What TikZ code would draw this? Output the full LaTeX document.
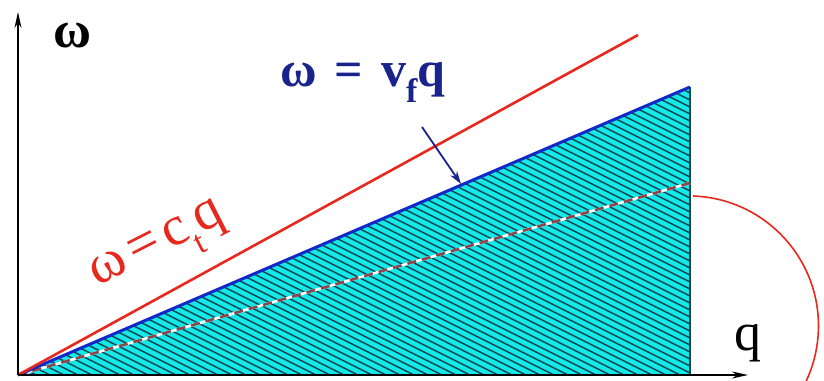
\documentclass[tikz,border=0pt]{standalone}
\usepackage{fontspec}
\setmainfont{Liberation Serif}
\usetikzlibrary{arrows.meta}
\definecolor{myred}{RGB}{232,40,28}
\definecolor{myblue}{RGB}{20,40,200}
\definecolor{navy}{RGB}{25,35,140}
\definecolor{mycyan}{RGB}{20,232,232}
\definecolor{hatch}{RGB}{10,70,80}
\definecolor{dashc}{RGB}{140,70,75}
\tikzset{
  axis/.style={line width=1.8pt, -{Stealth[length=16pt,width=7pt]}},
  lbl/.style={font=\fontsize{50}{52}\selectfont, inner sep=0pt},
}
\newcommand{\sbs}[1]{\raisebox{-0.32em}{\fontsize{34}{36}\selectfont #1}}
\begin{document}
\begin{tikzpicture}[x=1pt,y=1pt]
\useasboundingbox (0,0) rectangle (824,380);
% shaded region
\coordinate (O) at (18,5);
\coordinate (B) at (690,293);
\coordinate (C) at (690,5);
\fill[mycyan] (O) -- (B) -- (C) -- cycle;
\begin{scope}
\clip (O) -- (B) -- (C) -- cycle;
\foreach \c in {0,7,...,644} \draw[hatch, line width=1.5pt] (18,\c) -- (690,\c-336);
\end{scope}
\draw[hatch, line width=1.8pt] (B) -- (C);
% dashed line
\coordinate (D) at (690,197);
\draw[white, line width=2.6pt] (O) -- (D);
\draw[dashc, line width=2.6pt, dash pattern=on 9pt off 6pt] (O) -- (D);
% blue line
\draw[myblue, line width=3pt] (O) -- (B);
% red line
\coordinate (R) at (638,345);
\draw[myred, line width=2.6pt] (O) -- (R);
% axes
\coordinate (Y) at (18,368);
\coordinate (X) at (748,5);
\draw[axis] (O) -- (Y);
\draw[axis] (O) -- (X);
% arc
\begin{scope}
\clip (0,0) rectangle (824,380);
\draw[myred, line width=1.6pt] (693,184) arc[start angle=88, end angle=-40, radius=130];
\end{scope}
% labels
\node[lbl, font=\fontsize{52}{54}\selectfont\bfseries, anchor=base] (w) at (73,332) {ω};
\node[lbl, anchor=base west, font=\fontsize{54}{56}\selectfont] (q) at (734,30) {q};
\node[lbl, font=\fontsize{50}{52}\selectfont\bfseries, anchor=base west, text=navy] (vf) at (280,293) {ω\hspace{0.36em}=\hspace{0.36em}v\sbs{f}q};
\node[lbl, font=\fontsize{56}{58}\selectfont, anchor=center, text=myred, rotate=27] (ct) at (160,130) {ω\hspace{0.12em}=\hspace{0.12em}c\sbs{t}q};
% arrow
\coordinate (A1) at (422,253);
\coordinate (A2) at (461,196);
\draw[navy, line width=1.8pt, -{Stealth[length=13pt,width=8pt]}] (A1) -- (A2);
\end{tikzpicture}
\end{document}
